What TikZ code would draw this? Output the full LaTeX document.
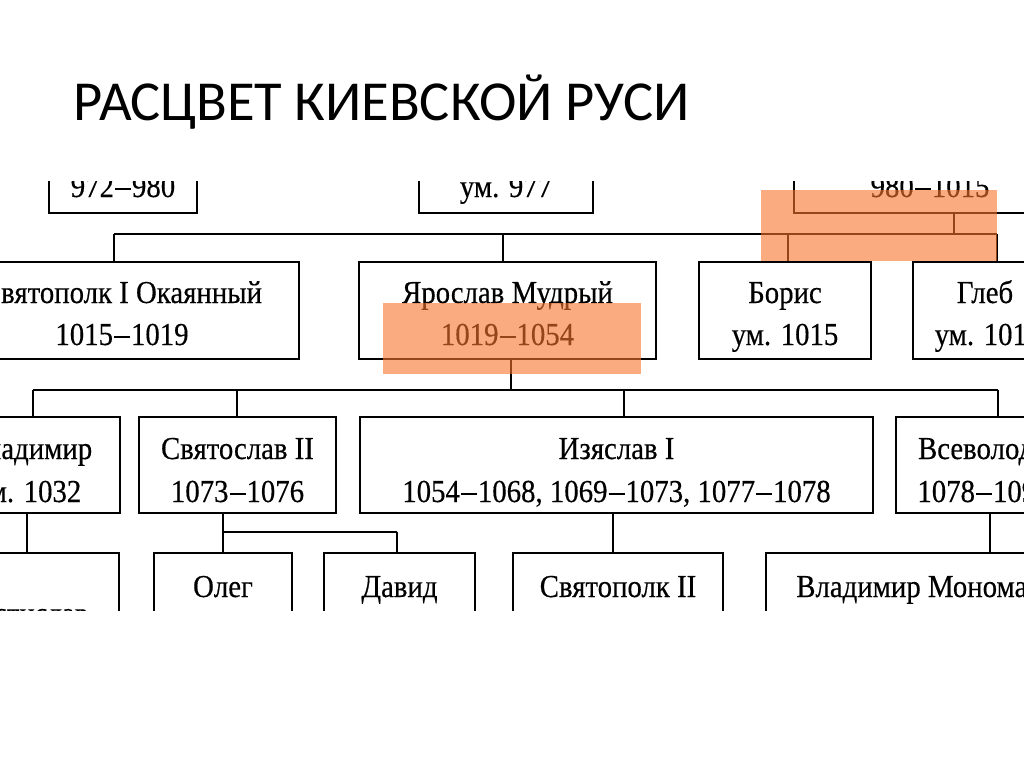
\documentclass[tikz,border=0pt]{standalone}
\usepackage{fontspec}
\setmainfont{Liberation Serif}
\newfontfamily\titlefont{Carlito}
\newfontfamily\tr[FakeStretch=0.9,FakeBold=0.4]{Liberation Serif}
\definecolor{hl}{RGB}{247,117,43}
\newcommand\dsh{\kern1pt\rule[7.5pt]{16pt}{2pt}\kern1pt}
\begin{document}
\begin{tikzpicture}[x=1pt,y=-1pt,
  box/.style={draw=black,line width=2pt,inner sep=0pt,outer sep=0pt},
  txt/.style={anchor=base,inner sep=0pt,font=\tr\fontsize{32}{43}\selectfont},
  conn/.style={draw=black,line width=2pt},
  hlbox/.style={fill=hl,fill opacity=0.6,draw=none}]
\useasboundingbox (0,0) rectangle (1024,768);
\node[anchor=base west,inner sep=0pt,font=\titlefont\fontsize{56.5}{60}\selectfont] (title) at (73,120) {РАСЦВЕТ КИЕВСКОЙ РУСИ};
\begin{scope}
\clip (0,181) rectangle (1024,610);
% row 1
\node[box,minimum width=148pt,minimum height=97pt] (b972) at (123,164.5) {};
\node[txt] (t972) at (123,197) {972\dsh980};
\node[box,minimum width=174pt,minimum height=97pt] (b977) at (506,164.5) {};
\node[txt] (t977) at (506,197) {ум. 977};
\node[box,minimum width=272pt,minimum height=97pt] (b980) at (930,164.5) {};
\node[txt] (t980) at (930,197) {980\dsh1015};
% row 2
\node[box,minimum width=354pt,minimum height=97pt] (svp) at (122,310.5) {};
\node[txt] (svp1) at (122,303) {Святополк I Окаянный};
\node[txt] (svp2) at (122,345) {1015\dsh1019};
\node[box,minimum width=297pt,minimum height=97pt] (yar) at (507.5,310.5) {};
\node[txt] (yar1) at (507.5,303) {Ярослав Мудрый};
\node[txt] (yar2) at (507.5,345) {1019\dsh1054};
\node[box,minimum width=172pt,minimum height=97pt] (bor) at (785,310.5) {};
\node[txt] (bor1) at (785,303) {Борис};
\node[txt] (bor2) at (785,345) {ум. 1015};
\node[box,minimum width=172pt,minimum height=97pt] (gleb) at (999,310.5) {};
\node[txt] (gleb1) at (985,303) {Глеб};
\node[txt] (gleb2) at (988,345) {ум. 1015};
% row 3
\node[box,minimum width=180pt,minimum height=96pt] (vla) at (30,465) {};
\node[txt] (vla1) at (30,459) {Владимир};
\node[txt] (vla2) at (28,502) {ум. 1032};
\node[box,minimum width=197pt,minimum height=96pt] (svs) at (237.5,465) {};
\node[txt] (svs1) at (237.5,459) {Святослав II};
\node[txt] (svs2) at (237.5,502) {1073\dsh1076};
\node[box,minimum width=513pt,minimum height=96pt] (izy) at (616.5,465) {};
\node[txt] (izy1) at (616.5,459) {Изяслав I};
\node[txt] (izy2) at (616.5,502) {1054\dsh1068, 1069\dsh1073, 1077\dsh1078};
\node[box,minimum width=178pt,minimum height=96pt] (vse) at (985,465) {};
\node[txt] (vse1) at (984,459) {Всеволод I};
\node[txt] (vse2) at (984,502) {1078\dsh1093};
% row 4
\node[box,minimum width=182pt,minimum height=97pt] (ros) at (28,601.5) {};
\node[txt] (ros1) at (26,624) {Ростислав};
\node[box,minimum width=138pt,minimum height=97pt] (ole) at (223,601.5) {};
\node[txt] (ole1) at (223,597) {Олег};
\node[box,minimum width=151pt,minimum height=97pt] (dav) at (399.5,601.5) {};
\node[txt] (dav1) at (399.5,597) {Давид};
\node[box,minimum width=210pt,minimum height=97pt] (sp2) at (618,601.5) {};
\node[txt] (sp21) at (618,597) {Святополк II};
\node[box,minimum width=310pt,minimum height=97pt] (mon) at (921,601.5) {};
\node[txt] (mon1) at (919,597) {Владимир Мономах};
% connectors row1 -> row2
\coordinate (busA) at (954,234);
\draw[conn] (busA |- b980.south) -- (busA);
\coordinate (busAL) at (114,234);
\coordinate (busAR) at (997,234);
\draw[conn] (busAL) -- (busAR);
\draw[conn] (busAL) -- (busAL |- svp.north);
\coordinate (dYar) at (503,234);
\draw[conn] (dYar) -- (dYar |- yar.north);
\coordinate (dBor) at (788,234);
\draw[conn] (dBor) -- (dBor |- bor.north);
\draw[conn] (busAR) -- (busAR |- gleb.north);
% row2 -> row3
\coordinate (busB) at (511,390);
\draw[conn] (busB |- yar.south) -- (busB);
\coordinate (busBL) at (33,390);
\coordinate (busBR) at (998,390);
\draw[conn] (busBL) -- (busBR);
\draw[conn] (busBL) -- (busBL |- vla.north);
\coordinate (dSvs) at (237,390);
\draw[conn] (dSvs) -- (dSvs |- svs.north);
\coordinate (dIzy) at (624,390);
\draw[conn] (dIzy) -- (dIzy |- izy.north);
\draw[conn] (busBR) -- (busBR |- vse.north);
% row3 -> row4
\coordinate (dRos) at (27,533);
\draw[conn] (dRos |- vla.south) -- (dRos |- ros.north);
\coordinate (busCL) at (223,532);
\coordinate (busCR) at (397,532);
\draw[conn] (busCL |- svs.south) -- (busCL);
\draw[conn,line width=1.5pt] (busCL) -- (busCR);
\draw[conn] (busCL) -- (busCL |- ole.north);
\draw[conn] (busCR) -- (busCR |- dav.north);
\coordinate (dSp2) at (613,533);
\draw[conn] (dSp2 |- izy.south) -- (dSp2 |- sp2.north);
\coordinate (dMon) at (990,533);
\draw[conn] (dMon |- vse.south) -- (dMon |- mon.north);
% highlights
\path[hlbox] (383,303) rectangle (641,374);
\path[hlbox] (761,190) rectangle (997,261);
\end{scope}
\end{tikzpicture}
\end{document}
